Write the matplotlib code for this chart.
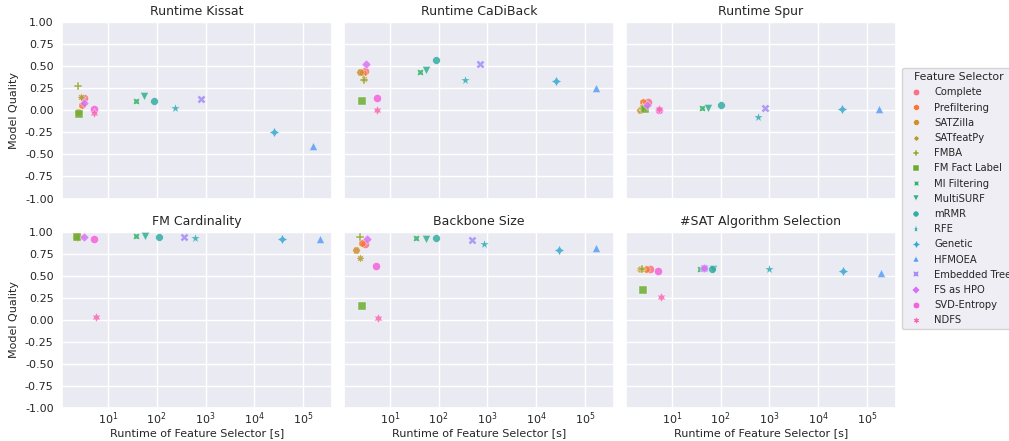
import numpy as np
import matplotlib
matplotlib.use("Agg")
import matplotlib.pyplot as plt
import seaborn as sns
from matplotlib.lines import Line2D
from matplotlib.ticker import FormatStrFormatter, NullLocator

selectors = ["Complete", "Prefiltering", "SATZilla", "SATfeatPy", "FMBA",
             "FM Fact Label", "MI Filtering", "MultiSURF", "mRMR", "RFE",
             "Genetic", "HFMOEA", "Embedded Tree", "FS as HPO", "SVD-Entropy", "NDFS"]

panel_titles = ["Runtime Kissat", "Runtime CaDiBack", "Runtime Spur",
                "FM Cardinality", "Backbone Size", "#SAT Algorithm Selection"]

# runtime [s] per selector, one list per panel
rt_kissat = [3.2, 3.0, 2.5, 2.8, 2.5, 2.6, 38, 54, 90, 235, 25000, 157000, 790, 3.3, 5.2, 5.2]
rt_cadiback = [3.1, 2.8, 2.4, 2.9, 2.9, 2.7, 41, 55, 87, 347, 25500, 165000, 690, 3.2, 5.4, 5.5]
rt_spur = [3.2, 2.6, 2.2, 2.5, 2.6, 2.8, 41.6, 55, 100, 570, 30400, 178000, 814, 3.1, 5.5, 5.5]
rt_card = [2.4, 2.3, 2.2, 2.3, 2.4, 2.3, 38, 58, 114, 607, 36000, 226000, 371, 3.3, 5.25, 5.8]
rt_backbone = [3.1, 2.7, 2.0, 2.4, 2.4, 2.7, 35, 55, 89, 850, 29800, 168000, 480, 3.4, 5.3, 5.6]
rt_sharpsat = [3.5, 3.0, 2.2, 2.3, 2.4, 2.6, 37, 70, 66, 1000, 32700, 194000, 45, 45, 5.25, 6.0]

# model quality per selector
q_kissat = [0.14, 0.06, -0.02, 0.15, 0.28, -0.04, 0.11, 0.16, 0.11, 0.03, -0.25, -0.41, 0.13, 0.08, 0.01, -0.03]
q_cadiback = [0.45, 0.42, 0.43, 0.36, 0.34, 0.11, 0.43, 0.46, 0.57, 0.34, 0.33, 0.25, 0.53, 0.52, 0.14, 0.00]
q_spur = [0.09, 0.09, 0.00, 0.04, 0.01, 0.01, 0.03, 0.03, 0.06, -0.08, 0.02, 0.02, 0.03, 0.06, 0.00, 0.01]
q_card = [0.94, 0.94, 0.94, 0.93, 0.94, 0.94, 0.95, 0.95, 0.94, 0.93, 0.92, 0.91, 0.94, 0.94, 0.91, 0.03]
q_backbone = [0.86, 0.87, 0.79, 0.70, 0.94, 0.16, 0.93, 0.91, 0.93, 0.86, 0.79, 0.81, 0.90, 0.92, 0.61, 0.02]
q_sharpsat = [0.58, 0.57, 0.57, 0.57, 0.58, 0.34, 0.58, 0.57, 0.58, 0.58, 0.55, 0.53, 0.59, 0.59, 0.55, 0.26]

runtimes = [rt_kissat, rt_cadiback, rt_spur, rt_card, rt_backbone, rt_sharpsat]
qualities = [q_kissat, q_cadiback, q_spur, q_card, q_backbone, q_sharpsat]

markers = ["o", "h", "H", (8, 1, 0), "P", "s", (4, 1, 45), "v", "8", "*",
           (4, 1, 0), "^", "X", "D", "o", (6, 1, 0)]
sizes = [34, 34, 34, 48, 38, 26, 44, 34, 34, 52, 52, 34, 38, 22, 34, 52]

sns.set_theme(style="darkgrid")
plt.rcParams["font.family"] = ["DejaVu Sans"]
plt.rcParams["font.size"] = 8
colors = sns.color_palette("husl", len(selectors))

fig, axes = plt.subplots(2, 3, figsize=(10.09, 4.41), dpi=100, sharex=True, sharey=True)
fig.subplots_adjust(left=0.0614, right=0.888, top=0.950, bottom=0.0748,
                    wspace=0.044, hspace=0.187)

for i, ax in enumerate(axes.flat):
    for j, name in enumerate(selectors):
        ax.scatter(runtimes[i][j], qualities[i][j], marker=markers[j], color=colors[j],
                   s=sizes[j], alpha=0.85, edgecolors="white", linewidths=0.3, zorder=3)
    ax.set_xscale("log")
    ax.set_xlim(1.15, 3.9e5)
    ax.set_ylim(-1, 1)
    ax.set_yticks(np.arange(-1, 1.01, 0.25))
    ax.yaxis.set_major_formatter(FormatStrFormatter("%.2f"))
    ax.set_xticks([1e1, 1e2, 1e3, 1e4, 1e5])
    ax.xaxis.set_minor_locator(NullLocator())
    ax.tick_params(axis="both", length=0, labelsize=8)
    ax.tick_params(axis="x", pad=1.5)
    ax.tick_params(axis="y", pad=6)
    ax.set_title(panel_titles[i], fontsize=9, pad=5)
    if i % 3 == 0:
        ax.set_ylabel("Model Quality", fontsize=8, labelpad=4)
    if i >= 3:
        ax.set_xlabel("Runtime of Feature Selector [s]", fontsize=8, labelpad=1)

handles = [Line2D([], [], linestyle="none", marker=markers[j], color=colors[j],
                  markersize=np.sqrt(sizes[j]) * 0.8, markeredgecolor="white",
                  markeredgewidth=0.3)
           for j in range(len(selectors))]
leg = fig.legend(handles, selectors, title="Feature Selector", loc="center left",
                 bbox_to_anchor=(0.889, 0.549), fontsize=7.2, title_fontsize=7.8,
                 labelspacing=0.52, frameon=True)

fig.savefig("out.png", dpi=100)
